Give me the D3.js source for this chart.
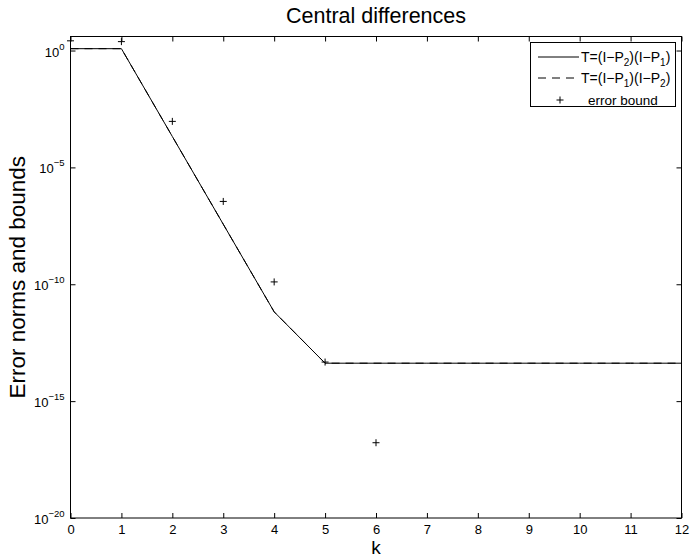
<!DOCTYPE html>
<html>
<head>
<meta charset="utf-8">
<script src="https://cdn.jsdelivr.net/npm/d3@7/dist/d3.min.js"></script>
<style>
  body { margin: 0; background: #fff; }
  text { font-family: "Liberation Sans", Arial, Helvetica, sans-serif; fill: #000; }
</style>
</head>
<body>
<svg id="chart" width="692" height="559"></svg>
<script>
// Iteration index
const kValues = [0, 1, 2, 3, 4, 5, 6, 7, 8, 9, 10, 11, 12];
// Error norm with T=(I-P2)(I-P1)
const normP2P1 = [1.2, 1.2, 2.1e-4, 3.7e-8, 6.6e-12, 4.2e-14, 4.2e-14, 4.2e-14, 4.2e-14, 4.2e-14, 4.2e-14, 4.2e-14, 4.2e-14];
// Error norm with T=(I-P1)(I-P2)
const normP1P2 = [1.2, 1.2, 2.1e-4, 3.7e-8, 6.6e-12, 4.2e-14, 4.2e-14, 4.2e-14, 4.2e-14, 4.2e-14, 4.2e-14, 4.2e-14, 4.2e-14];
// Theoretical error bound
const boundK = [0, 1, 2, 3, 4, 5, 6];
const boundValues = [2.6, 2.4, 9.3e-4, 3.5e-7, 1.26e-10, 4.7e-14, 1.66e-17];
// Axis ticks
const xTicks = [0, 1, 2, 3, 4, 5, 6, 7, 8, 9, 10, 11, 12];
const yTickExponents = [0, -5, -10, -15, -20];

const margin = { left: 70.5, right: 681.5, top: 36.5, bottom: 518 };
const svg = d3.select("#chart");

const x = d3.scaleLinear().domain([0, 12]).range([margin.left, margin.right]);
const y = d3.scaleLog().domain([1e-20, Math.pow(10, 0.6)]).range([margin.bottom, margin.top]);

const tickLen = 5;

// Axes box
svg.append("rect")
  .attr("x", margin.left).attr("y", margin.top)
  .attr("width", margin.right - margin.left).attr("height", margin.bottom - margin.top)
  .attr("fill", "none").attr("stroke", "#000").attr("stroke-width", 1);

// Bottom axis (ticks pointing inward)
const xAxis = d3.axisBottom(x).tickValues(xTicks).tickSizeInner(-tickLen).tickSizeOuter(0).tickFormat(d3.format("d"));
const gx = svg.append("g").attr("transform", `translate(0,${margin.bottom})`).call(xAxis);
gx.select(".domain").remove();
gx.selectAll("text").attr("font-size", 13).attr("font-family", "Liberation Sans, Arial, sans-serif").attr("dy", "0.71em").attr("y", 7);

// Top axis mirror ticks
const gxTop = svg.append("g").attr("transform", `translate(0,${margin.top})`)
  .call(d3.axisTop(x).tickValues(xTicks).tickSizeInner(-tickLen).tickSizeOuter(0).tickFormat(""));
gxTop.select(".domain").remove();

// Left axis ticks
const yTickVals = yTickExponents.map(e => Math.pow(10, e));
const gy = svg.append("g").attr("transform", `translate(${margin.left},0)`)
  .call(d3.axisLeft(y).tickValues(yTickVals).tickSizeInner(-tickLen).tickSizeOuter(0).tickFormat(""));
gy.select(".domain").remove();

// Right axis mirror ticks
const gyR = svg.append("g").attr("transform", `translate(${margin.right},0)`)
  .call(d3.axisRight(y).tickValues(yTickVals).tickSizeInner(-tickLen).tickSizeOuter(0).tickFormat(""));
gyR.select(".domain").remove();

// Power-of-ten tick labels
yTickExponents.forEach(e => {
  const t = svg.append("text")
    .attr("x", margin.left - 6)
    .attr("y", y(Math.pow(10, e)) + 6)
    .attr("text-anchor", "end")
    .attr("font-size", 13);
  t.append("tspan").text("10");
  t.append("tspan").attr("dy", -7).attr("font-size", 9.5).text(String(e).replace("-", "\u2212"));
});

// Error norm lines
const line = d3.line().x((d, i) => x(kValues[i])).y(d => y(d));
svg.append("path").datum(normP2P1)
  .attr("d", line).attr("fill", "none").attr("stroke", "#000").attr("stroke-width", 1);
svg.append("path").datum(normP1P2)
  .attr("d", line).attr("fill", "none").attr("stroke", "#000").attr("stroke-width", 1)
  .attr("stroke-dasharray", "8,6");

// Error bound markers
const plusSize = 3.5;
const plus = (g, cx, cy) => {
  g.append("line").attr("x1", cx - plusSize).attr("x2", cx + plusSize).attr("y1", cy).attr("y2", cy);
  g.append("line").attr("x1", cx).attr("x2", cx).attr("y1", cy - plusSize).attr("y2", cy + plusSize);
};
const gm = svg.append("g").attr("stroke", "#000").attr("stroke-width", 1);
boundValues.forEach((v, i) => plus(gm, x(boundK[i]), y(v)));

// Title and axis labels
svg.append("text").attr("x", (margin.left + margin.right) / 2).attr("y", 23)
  .attr("text-anchor", "middle").attr("font-size", 21.5).text("Central differences");
svg.append("text").attr("x", (margin.left + margin.right) / 2).attr("y", 554)
  .attr("text-anchor", "middle").attr("font-size", 19).text("k");
svg.append("text")
  .attr("transform", `translate(25,${(margin.top + margin.bottom) / 2}) rotate(-90)`)
  .attr("text-anchor", "middle").attr("font-size", 22.5).text("Error norms and bounds");

// Legend
const lg = svg.append("g");
lg.append("rect").attr("x", 530.5).attr("y", 42.5).attr("width", 145).attr("height", 64)
  .attr("fill", "#fff").attr("stroke", "#000").attr("stroke-width", 1);
const legendLabel = (yy, a, b) => {
  const t = lg.append("text").attr("x", 581).attr("y", yy + 4.5).attr("font-size", 14);
  t.append("tspan").text("T=(I\u2212P");
  t.append("tspan").attr("font-size", 10).attr("dy", 4).text(a);
  t.append("tspan").attr("dy", -4).text(")(I\u2212P");
  t.append("tspan").attr("font-size", 10).attr("dy", 4).text(b);
  t.append("tspan").attr("dy", -4).text(")");
};
lg.append("line").attr("x1", 538).attr("x2", 579).attr("y1", 57).attr("y2", 57).attr("stroke", "#000");
legendLabel(57, "2", "1");
lg.append("line").attr("x1", 538).attr("x2", 579).attr("y1", 78).attr("y2", 78).attr("stroke", "#000").attr("stroke-dasharray", "8,6");
legendLabel(78, "1", "2");
const lgm = lg.append("g").attr("stroke", "#000").attr("stroke-width", 1);
plus(lgm, 560, 100);
lg.append("text").attr("x", 588).attr("y", 104.5).attr("font-size", 13.5).text("error bound");
</script>
</body>
</html>
